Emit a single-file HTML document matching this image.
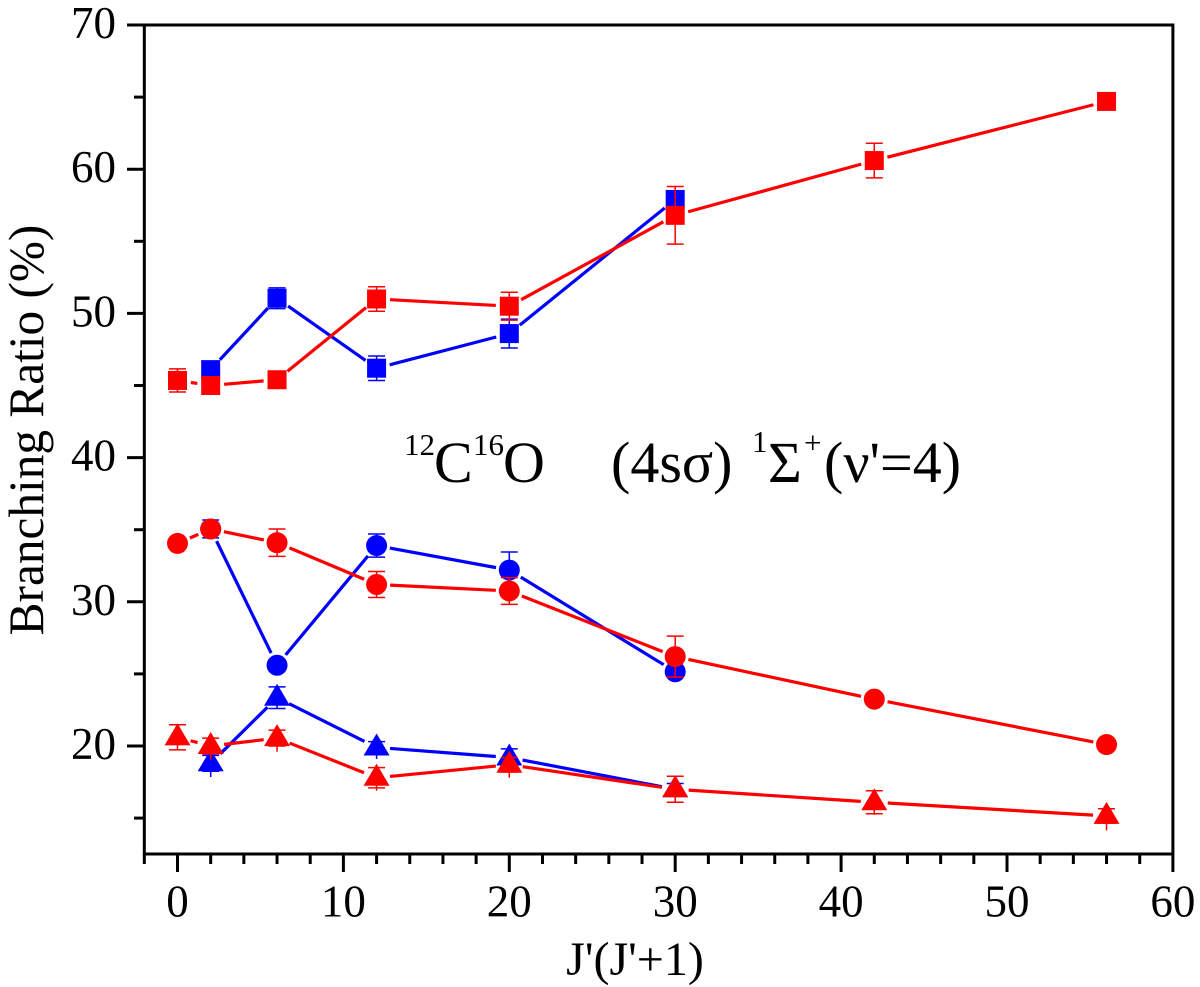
<!DOCTYPE html>
<html>
<head>
<meta charset="utf-8">
<title>Branching Ratio chart</title>
<style>
html,body{margin:0;padding:0;background:#fff;width:1200px;height:987px;overflow:hidden}
svg{display:block;font-family:"Liberation Serif",serif;fill:#000}
</style>
</head>
<body>
<svg id="chart" width="1200" height="987" viewBox="0 0 1200 987" xmlns="http://www.w3.org/2000/svg">
  <text transform="translate(43,430) rotate(-90)" text-anchor="middle" font-size="49.3">Branching Ratio (%)</text>
  <text x="635" y="975" text-anchor="middle" font-size="48">J'(J'+1)</text>
  <g>
    <text x="404" y="455" font-size="31">12</text>
    <text x="434" y="482" font-size="58">C</text>
    <text x="473" y="455" font-size="31">16</text>
    <text x="503" y="482" font-size="58">O</text>
    <text x="611" y="482" font-size="58">(4sσ)</text>
    <text x="752" y="452" font-size="31">1</text>
    <text x="768" y="482" font-size="58">Σ</text>
    <text x="804" y="453" font-size="31">+</text>
    <text x="824" y="482" font-size="58">(ν'=4)</text>
  </g>
</svg>
<script>
var xTickValues = [0, 10, 20, 30, 40, 50, 60];
var xMinorValues = [-2, 2, 4, 6, 8, 12, 14, 16, 18, 22, 24, 26, 28, 32, 34, 36, 38, 42, 44, 46, 48, 52, 54, 56, 58];
var yTickValues = [20, 30, 40, 50, 60, 70];
var yMinorValues = [15, 25, 35, 45, 55, 65];

var jBlue = [2, 6, 12, 20, 30];
var jRed = [0, 2, 6, 12, 20, 30, 42, 56];

var blueSquares = [46.1, 51.05, 46.2, 48.6, 57.9];
var blueSquaresErr = [0, 0.72, 0.85, 1.0, 0.6];
var redSquares = [45.35, 45.0, 45.4, 51.0, 50.5, 56.8, 60.6, 64.7];
var redSquaresErr = [0.8, 0, 0, 0.85, 0.97, 2.0, 1.2, 0];

var blueCircles = [35.05, 25.6, 33.9, 32.2, 25.15];
var blueCirclesErr = [0.62, 0, 0.8, 1.25, 0];
var redCircles = [34.05, 35.05, 34.1, 31.2, 30.75, 26.2, 23.25, 20.1];
var redCirclesErr = [0, 0, 0.95, 0.9, 0.93, 1.42, 0, 0];

var blueTriangles = [18.8, 23.35, 19.9, 19.2, 17.0];
var blueTrianglesErr = [0.55, 0.75, 0.4, 0.6, 0.4];
var blueTrianglesStemExtra = [0.4, 0, 0.4, 0, 0];
var redTriangles = [20.6, 20.0, 20.55, 17.8, 18.7, 17.0, 16.1, 15.15];
var redTrianglesErr = [0.87, 0.55, 0.55, 0.7, 0.5, 0.9, 0.8, 0.5];
var redTrianglesStemExtra = [0, 0.4, 0.4, 0.2, 0.4, 0, 0.08, 0.5];

var SVGNS = 'http://www.w3.org/2000/svg';
var svg = document.getElementById('chart');
function xPos(v) { return 177.5 + v * 16.59; }
function yPos(v) { return 25 + (70 - v) * 14.42; }
function make(tag, attrs, parent) {
  var el = document.createElementNS(SVGNS, tag);
  for (var k in attrs) el.setAttribute(k, attrs[k]);
  parent.appendChild(el);
  return el;
}

var axes = make('g', {}, svg);


var frame = make('rect', {x: xPos(-2), y: yPos(70), width: xPos(60) - xPos(-2), height: 829, fill: 'none', stroke: '#000', 'stroke-width': 3}, axes);


var axisBottom = 854;

xTickValues.forEach(function (v) {
  var t = make('line', {x1: xPos(v), x2: xPos(v), y1: axisBottom, y2: 872, stroke: '#000', 'stroke-width': 3}, axes);
  
  
  var l = make('text', {x: xPos(v), y: 916.5, 'text-anchor': 'middle', 'font-size': 45}, axes);
  l.textContent = v;
  
  
});
xMinorValues.forEach(function (v) {
  var t = make('line', {x1: xPos(v), x2: xPos(v), y1: axisBottom, y2: 864, stroke: '#000', 'stroke-width': 3}, axes);
  
  
});
yTickValues.forEach(function (v) {
  var t = make('line', {x1: 127, x2: xPos(-2), y1: yPos(v), y2: yPos(v), stroke: '#000', 'stroke-width': 3}, axes);
  
  
  var l = make('text', {x: 116, y: yPos(v) + 13, 'text-anchor': 'end', 'font-size': 45}, axes);
  l.textContent = v;
  
  
});
yMinorValues.forEach(function (v) {
  var t = make('line', {x1: 134, x2: xPos(-2), y1: yPos(v), y2: yPos(v), stroke: '#000', 'stroke-width': 3}, axes);
  
  
});

function drawSeries(name, xs, ys, errs, color, shape, stemExtra) {
  var g = make('g', {}, svg);
  
  
  var gap = 13.5;
  for (var i = 0; i < xs.length - 1; i++) {
    var x1 = xPos(xs[i]), y1 = yPos(ys[i]), x2 = xPos(xs[i + 1]), y2 = yPos(ys[i + 1]);
    var d = Math.sqrt((x2 - x1) * (x2 - x1) + (y2 - y1) * (y2 - y1));
    if (d <= 2 * gap) continue;
    var ux = (x2 - x1) / d, uy = (y2 - y1) / d;
    var seg = make('line', {x1: x1 + ux * gap, y1: y1 + uy * gap, x2: x2 - ux * gap, y2: y2 - uy * gap, stroke: color, 'stroke-width': 3.2}, g);
    
    
  }
  xs.forEach(function (xv, j) {
    var cx = xPos(xv), cy = yPos(ys[j]), m;
    if (shape === 'square') {
      m = make('rect', {x: cx - 9.5, y: cy - 9.5, width: 19, height: 19, fill: color}, g);
    } else if (shape === 'circle') {
      m = make('circle', {cx: cx, cy: cy, r: 10.5, fill: color}, g);
    } else {
      m = make('polygon', {points: cx + ',' + (cy - 14) + ' ' + (cx - 13) + ',' + (cy + 8) + ' ' + (cx + 13) + ',' + (cy + 8), fill: color}, g);
    }
    
    
    if (errs[j] > 0) {
      var top = yPos(ys[j] + errs[j]), bot = yPos(ys[j] - errs[j]);
      var stemEnd = stemExtra ? yPos(ys[j] - errs[j] - stemExtra[j]) : bot;
      var e = make('path', {d: 'M' + (cx - 8.5) + ' ' + top + 'H' + (cx + 8.5) + 'M' + (cx - 8.5) + ' ' + bot + 'H' + (cx + 8.5) + 'M' + cx + ' ' + top + 'V' + stemEnd, stroke: color, 'stroke-width': 1.5, fill: 'none'}, g);
      
      
    }
  });
}

drawSeries('blue-squares-series', jBlue, blueSquares, blueSquaresErr, '#0000ff', 'square');
drawSeries('blue-circles-series', jBlue, blueCircles, blueCirclesErr, '#0000ff', 'circle');
drawSeries('blue-triangles-series', jBlue, blueTriangles, blueTrianglesErr, '#0000ff', 'triangle', blueTrianglesStemExtra);
drawSeries('red-squares-series', jRed, redSquares, redSquaresErr, '#ff0000', 'square');
drawSeries('red-circles-series', jRed, redCircles, redCirclesErr, '#ff0000', 'circle');
drawSeries('red-triangles-series', jRed, redTriangles, redTrianglesErr, '#ff0000', 'triangle', redTrianglesStemExtra);
</script>
</body>
</html>
